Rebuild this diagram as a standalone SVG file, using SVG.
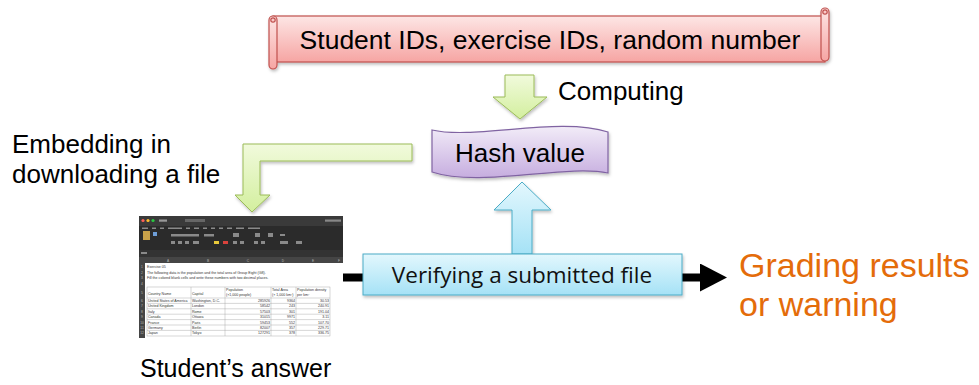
<svg xmlns="http://www.w3.org/2000/svg" width="979" height="385" viewBox="0 0 979 385">
  <defs>
    <linearGradient id="gPink" x1="0" y1="0" x2="0" y2="1">
      <stop offset="0" stop-color="#fde6e5"/>
      <stop offset="1" stop-color="#f6a5a3"/>
    </linearGradient>
    <linearGradient id="gPurple" x1="0" y1="0" x2="0" y2="1">
      <stop offset="0" stop-color="#f2ecf8"/>
      <stop offset="1" stop-color="#c6addf"/>
    </linearGradient>
    <linearGradient id="gGreen" x1="0" y1="0" x2="0" y2="1">
      <stop offset="0" stop-color="#f1fadc"/>
      <stop offset="1" stop-color="#d3ef9e"/>
    </linearGradient>
    <linearGradient id="gBlue" x1="0" y1="0" x2="0" y2="1">
      <stop offset="0" stop-color="#e3f7fd"/>
      <stop offset="1" stop-color="#a5e2f6"/>
    </linearGradient>
    <filter id="shadow" x="-10%" y="-10%" width="120%" height="130%">
      <feDropShadow dx="1" dy="2" stdDeviation="1.5" flood-color="#000" flood-opacity="0.25"/>
    </filter>
    <marker id="blackHead" markerUnits="userSpaceOnUse" markerWidth="27" markerHeight="28" refX="0" refY="14" orient="auto">
      <path d="M0,0 L27,14 L0,28 Z" fill="#000"/>
    </marker>
    <style>
      .t { font-family: "Liberation Sans", Arial, sans-serif; fill: #000; }
      .big { font-size: 26px; }
      .orange { font-family: "Liberation Sans", Arial, sans-serif; font-size: 34px; fill: #e46c0a; }
      .cal { font-family: "Open Sans", "Liberation Sans", sans-serif; font-size: 22.5px; fill: #111; }
      .green { fill: url(#gGreen); stroke: #9bbb59; stroke-width: 1; filter: url(#shadow); }
      .xs { font-family: "Liberation Sans", Arial, sans-serif; font-size: 3.6px; fill: #333; }
      .xw { font-family: "Liberation Sans", Arial, sans-serif; font-size: 3.2px; fill: #bbb; }
      .cell { fill: none; stroke: #9a9a9a; stroke-width: 0.4; }
    </style>
  </defs>

  <rect width="979" height="385" fill="#fff"/>

  <!-- connectors -->
  <g id="connectors">
    <line x1="343" y1="277.5" x2="700" y2="277.5" stroke="#000" stroke-width="8" marker-end="url(#blackHead)"/>
    <polygon id="arrow-computing" class="green" points="505,75 534,75 534,97 547,97 520,119 493,97 505,97"/>
    <polygon id="arrow-embedding" class="green" points="412,144 243,144 243,195 235,195 252,212 270,195 260,195 260,161 412,161"/>
    <polygon id="arrow-verify" points="522,182 551,210 532,210 532,254 512,254 512,210 494,210" fill="url(#gBlue)" stroke="#4bacc6" stroke-width="1" filter="url(#shadow)"/>
  </g>

  <!-- scroll banner -->
  <g id="inputs">
    <g filter="url(#shadow)" stroke="#c0504d" stroke-width="1.2">
      <rect x="273" y="16" width="552" height="46" fill="url(#gPink)"/>
      <rect x="269" y="16" width="8" height="53" rx="4" fill="url(#gPink)"/>
      <circle cx="273" cy="20" r="2.2" fill="#f9c9c8"/>
      <rect x="821" y="8" width="8" height="53" rx="4" fill="url(#gPink)"/>
      <circle cx="825" cy="12" r="2.2" fill="#f9c9c8"/>
    </g>
    <text class="t" x="550" y="49" font-size="26.5" text-anchor="middle">Student IDs, exercise IDs, random number</text>
  </g>

  <g id="computing-label">
    <text class="t big" x="558" y="100">Computing</text>
  </g>

  <!-- hash value -->
  <g id="hash-value">
    <path d="M432,130 C475,140 560,116 608,132 L608,173 C565,164 480,188 432,172 Z" fill="url(#gPurple)" stroke="#8064a2" stroke-width="1.2" filter="url(#shadow)"/>
    <text class="t big" x="520" y="162" text-anchor="middle">Hash value</text>
  </g>

  <g id="embedding-label">
    <text class="t big" x="12" y="153">Embedding in</text>
    <text class="t big" x="12" y="183">downloading a file</text>
  </g>

  <!-- verifying box -->
  <g id="verifying">
    <rect x="363" y="254" width="319" height="41" fill="url(#gBlue)" stroke="#4bacc6" stroke-width="1" filter="url(#shadow)"/>
    <text class="cal" x="522" y="282.5" text-anchor="middle">Verifying a submitted file</text>
  </g>

  <g id="grading-results">
    <text class="orange" x="739" y="277">Grading results</text>
    <text class="orange" x="739" y="316">or warning</text>
  </g>

  <!-- student's answer spreadsheet -->
  <g id="student-answer">
    <rect x="139" y="216" width="204" height="122" fill="#ffffff"/>
    <rect x="139" y="216" width="204" height="10" fill="#3a3a3a"/>
    <circle cx="143" cy="220.5" r="1.6" fill="#ff5f57"/>
    <circle cx="148" cy="220.5" r="1.6" fill="#febc2e"/>
    <circle cx="153" cy="220.5" r="1.6" fill="#28c840"/>
    <rect x="159" y="219.5" width="8" height="2.2" fill="#999"/>
    <rect x="185" y="219" width="20" height="3" fill="#666"/>
    <rect x="325" y="219.5" width="16" height="2.2" fill="#888"/>
    <rect x="139" y="226" width="204" height="24" fill="#2b2b2b"/>
    <g fill="#8a8a8a">
      <rect x="142" y="227.5" width="6" height="1.5"/><rect x="152" y="227.5" width="4" height="1.5"/>
      <rect x="160" y="227.5" width="4" height="1.5"/><rect x="168" y="227.5" width="14" height="1.5"/>
      <rect x="186" y="227.5" width="4" height="1.5"/><rect x="194" y="227.5" width="5" height="1.5"/>
      <rect x="203" y="227.5" width="4" height="1.5"/><rect x="211" y="227.5" width="4" height="1.5"/>
      <rect x="219" y="227.5" width="4" height="1.5"/><rect x="227" y="227.5" width="5" height="1.5"/>
      <rect x="236" y="227.5" width="8" height="1.5"/><rect x="248" y="227.5" width="12" height="1.5"/>
      <rect x="171" y="234" width="28" height="2.5"/><rect x="204" y="234" width="10" height="2.5"/>
      <rect x="233" y="233" width="6" height="4"/><rect x="255" y="233" width="5" height="4"/>
      <rect x="268" y="233" width="5" height="4"/><rect x="280" y="234" width="5" height="2"/>
      <rect x="171" y="241" width="4" height="3"/><rect x="178" y="241" width="4" height="3"/>
      <rect x="185" y="241" width="4" height="3"/><rect x="193" y="241" width="6" height="3"/>
      <rect x="233" y="241" width="4" height="3"/><rect x="240" y="241" width="4" height="3"/>
      <rect x="254" y="241" width="4" height="3"/><rect x="261" y="241" width="4" height="3"/>
      <rect x="280" y="241" width="8" height="3"/><rect x="296" y="241" width="6" height="3"/>
    </g>
    <rect x="143" y="231" width="7" height="9" fill="#c9a24a"/>
    <rect x="153" y="232" width="4" height="4" fill="#6f9fd8"/>
    <rect x="214" y="241" width="5" height="3" fill="#e8c93a"/>
    <rect x="223" y="241" width="5" height="3" fill="#d9423c"/>
    <rect x="139" y="250" width="204" height="7" fill="#333"/>
    <rect x="141" y="252" width="6" height="2" fill="#8a8a8a"/>
    <rect x="139" y="257" width="204" height="6" fill="#454545"/>
    <rect x="139" y="263" width="6" height="75" fill="#454545"/>
    <g class="xw" text-anchor="middle">
      <text x="168" y="261.5">A</text><text x="208" y="261.5">B</text><text x="248" y="261.5">C</text>
      <text x="283" y="261.5">D</text><text x="313" y="261.5">E</text><text x="339" y="261.5">F</text>
    </g>
    <g class="xw" text-anchor="middle">
      <text x="142" y="268">1</text><text x="142" y="273.5">2</text><text x="142" y="279">3</text>
      <text x="142" y="284.5">4</text><text x="142" y="294">5</text><text x="142" y="302">6</text>
      <text x="142" y="307.4">7</text><text x="142" y="312.8">8</text><text x="142" y="318.2">9</text>
      <text x="142" y="323.6">10</text><text x="142" y="329">11</text><text x="142" y="334.4">12</text>
    </g>
    <g class="xs">
      <text x="147" y="268">Exercise 05</text>
      <text x="147" y="273.5">The following data is the population and the total area of Group Eight (G8).</text>
      <text x="147" y="279">Fill the colored blank cells and write these numbers with two decimal places.</text>
    </g>
    <g class="cell">
      <rect x="147" y="287" width="183" height="49"/>
      <line x1="191" y1="287" x2="191" y2="336"/>
      <line x1="225" y1="287" x2="225" y2="336"/>
      <line x1="271" y1="287" x2="271" y2="336"/>
      <line x1="296" y1="287" x2="296" y2="336"/>
      <line x1="147" y1="298" x2="330" y2="298"/>
      <line x1="147" y1="303.4" x2="330" y2="303.4"/>
      <line x1="147" y1="308.8" x2="330" y2="308.8"/>
      <line x1="147" y1="314.2" x2="330" y2="314.2"/>
      <line x1="147" y1="319.6" x2="330" y2="319.6"/>
      <line x1="147" y1="325" x2="330" y2="325"/>
      <line x1="147" y1="330.4" x2="330" y2="330.4"/>
    </g>
    <g class="xs">
      <text x="148" y="294.5">Country Name</text>
      <text x="192" y="294.5">Capital</text>
      <text x="226" y="291">Population</text>
      <text x="226" y="296">(×1,000 people)</text>
      <text x="272" y="291">Total Area</text>
      <text x="272" y="296">(× 1,000 km²)</text>
      <text x="297" y="291">Population density</text>
      <text x="297" y="296">per km²</text>
      <text x="148" y="302">United States of America</text><text x="192" y="302">Washington, D.C.</text>
      <text x="148" y="307.4">United Kingdom</text><text x="192" y="307.4">London</text>
      <text x="148" y="312.8">Italy</text><text x="192" y="312.8">Rome</text>
      <text x="148" y="318.2">Canada</text><text x="192" y="318.2">Ottawa</text>
      <text x="148" y="323.6">France</text><text x="192" y="323.6">Paris</text>
      <text x="148" y="329">Germany</text><text x="192" y="329">Berlin</text>
      <text x="148" y="334.4">Japan</text><text x="192" y="334.4">Tokyo</text>
    </g>
    <g class="xs" text-anchor="end">
      <text x="270" y="302">285926</text><text x="295" y="302">9364</text><text x="329" y="302">30.53</text>
      <text x="270" y="307.4">58542</text><text x="295" y="307.4">243</text><text x="329" y="307.4">240.91</text>
      <text x="270" y="312.8">57503</text><text x="295" y="312.8">301</text><text x="329" y="312.8">191.04</text>
      <text x="270" y="318.2">31015</text><text x="295" y="318.2">9971</text><text x="329" y="318.2">3.11</text>
      <text x="270" y="323.6">59453</text><text x="295" y="323.6">552</text><text x="329" y="323.6">107.70</text>
      <text x="270" y="329">82007</text><text x="295" y="329">357</text><text x="329" y="329">229.71</text>
      <text x="270" y="334.4">127291</text><text x="295" y="334.4">378</text><text x="329" y="334.4">336.75</text>
    </g>
    <text class="t" x="140" y="377" font-size="25">Student’s answer</text>
  </g>
</svg>
